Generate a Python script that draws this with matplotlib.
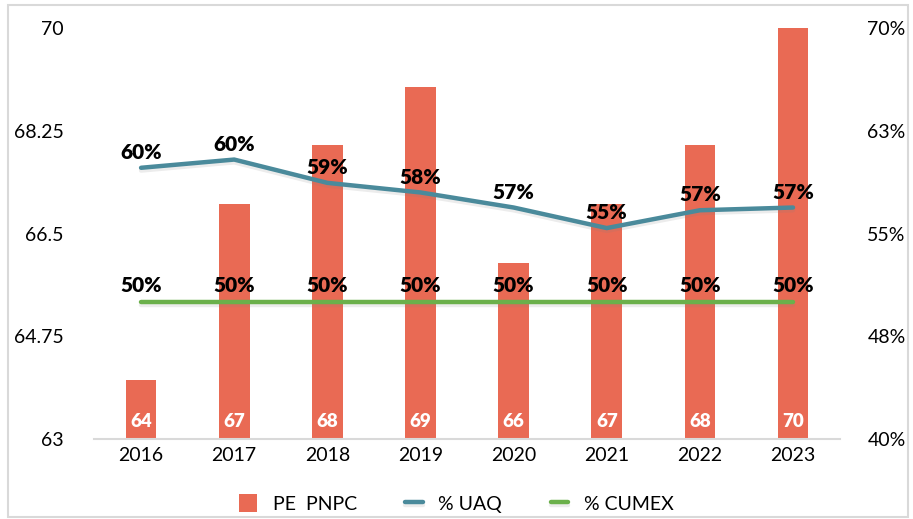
import numpy as np
import matplotlib
matplotlib.use("Agg")
from matplotlib import pyplot as plt
import matplotlib.patheffects as pe
from matplotlib.patches import Rectangle

plt.rcParams['font.family'] = ['Lato', 'DejaVu Sans']

years = ['2016', '2017', '2018', '2019', '2020', '2021', '2022', '2023']
pe_pnpc = [64, 67, 68, 69, 66, 67, 68, 70]
uaq = [59.8, 60.4, 58.7, 58.0, 56.9, 55.4, 56.7, 56.9]
uaq_labels = ['60%', '60%', '59%', '58%', '57%', '55%', '57%', '57%']
cumex = [50, 50, 50, 50, 50, 50, 50, 50]
cumex_labels = ['50%'] * 8
left_ticks = [63, 64.75, 66.5, 68.25, 70]
left_ticklabels = ['63', '64.75', '66.5', '68.25', '70']
right_ticks = [40, 47.5, 55, 62.5, 70]
right_ticklabels = ['40%', '48%', '55%', '63%', '70%']

bar_color = '#E96A54'
uaq_color = '#4A8A9B'
cumex_color = '#6BB04B'

fig = plt.figure(figsize=(9.13, 5.19), dpi=100)
fig.patches.append(Rectangle((0.009, 0.004), 0.986, 0.986, transform=fig.transFigure,
                             fill=False, edgecolor='#D9D9D9', linewidth=1.5))
ax = fig.add_axes([0.1035, 0.154, 0.8161, 0.792])
x = np.arange(len(years))

bars = ax.bar(x, np.array(pe_pnpc) - 63, bottom=63, width=0.33, color=bar_color,
              label='PE  PNPC', zorder=2)
for xi, v in zip(x, pe_pnpc):
    ax.text(xi, 63.3, str(v), ha='center', va='center', color='white',
            fontsize=13.5, fontweight='heavy', zorder=3)

ax.set_ylim(63, 70)
ax.set_xlim(-0.5, len(years) - 0.5)
ax.set_yticks(left_ticks)
ax.set_yticklabels(left_ticklabels)
ax.set_xticks(x)
ax.set_xticklabels(years)
ax.tick_params(axis='both', length=0, labelsize=14)
ax.tick_params(axis='y', pad=22)
ax.tick_params(axis='x', pad=6)
for s in ['top', 'right', 'left']:
    ax.spines[s].set_visible(False)
ax.spines['bottom'].set_color('#D9D9D9')
ax.spines['bottom'].set_linewidth(1.5)

ax2 = ax.twinx()
ax2.set_ylim(40, 70)
ax2.set_yticks(right_ticks)
ax2.set_yticklabels(right_ticklabels)
ax2.tick_params(axis='y', length=0, labelsize=14, pad=20)
for s in ['top', 'right', 'left', 'bottom']:
    ax2.spines[s].set_visible(False)

shadow = [pe.SimpleLineShadow(offset=(0, -2), shadow_color='gray', alpha=0.15), pe.Normal()]
l1, = ax2.plot(x, uaq, color=uaq_color, linewidth=3.2, solid_capstyle='round',
               solid_joinstyle='round', label='% UAQ', path_effects=shadow, zorder=4)
l2, = ax2.plot(x, cumex, color=cumex_color, linewidth=3.2, solid_capstyle='round',
               label='% CUMEX', path_effects=shadow, zorder=4)

for xi, v, t in zip(x, uaq, uaq_labels):
    ax2.annotate(t, (xi, v), xytext=(0, 11), textcoords='offset points', ha='center',
                 va='center', fontsize=15, fontweight='heavy', color='black', zorder=5)
for xi, v, t in zip(x, cumex, cumex_labels):
    ax2.annotate(t, (xi, v), xytext=(0, 12), textcoords='offset points', ha='center',
                 va='center', fontsize=15, fontweight='heavy', color='black', zorder=5)

leg = fig.legend([bars, l1, l2], ['PE  PNPC', '% UAQ', '% CUMEX'], loc='center',
                 bbox_to_anchor=(0.5, 0.03), ncol=3, frameon=False, fontsize=14,
                 handlelength=0.9, handleheight=1.0, columnspacing=2.5)

fig.savefig('out.png', dpi=100)
